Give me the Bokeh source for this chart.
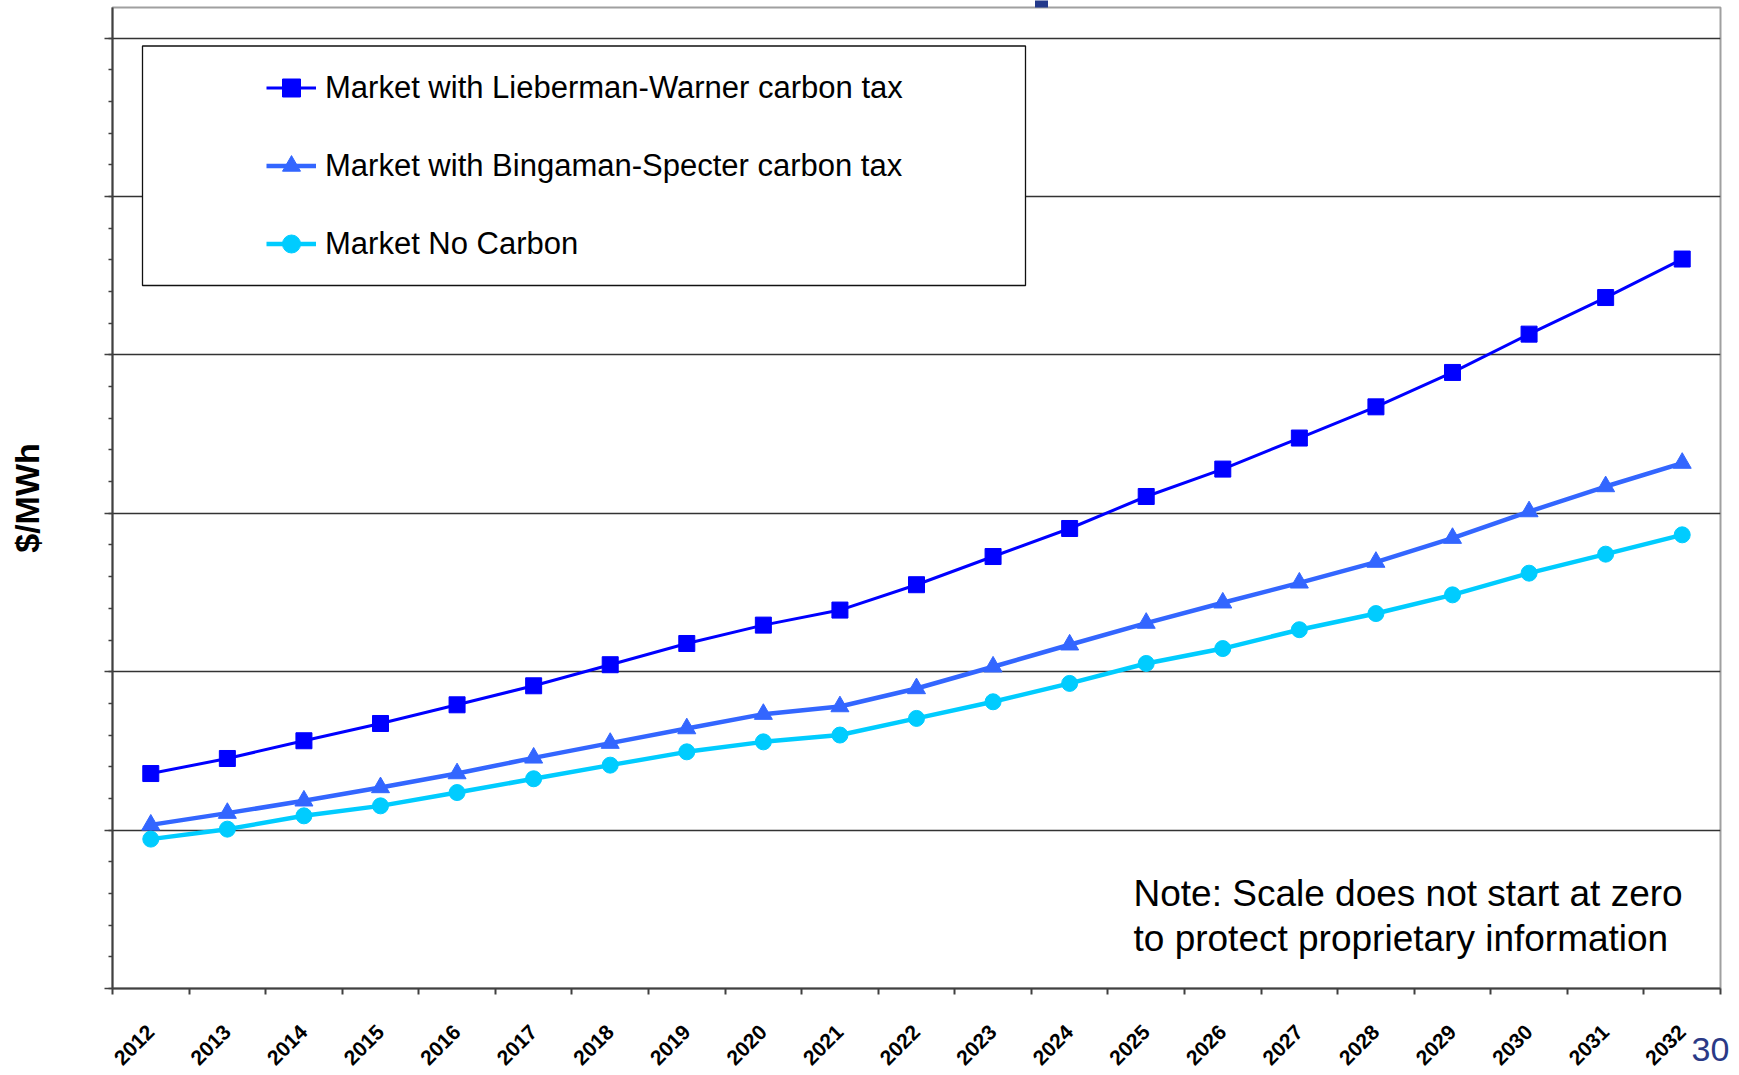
import math
from bokeh.plotting import figure
from bokeh.models import (Range1d, FixedTicker, Legend, LegendItem, Label, BoxAnnotation,
                          LinearAxis)
from bokeh.embed import file_html
from bokeh.resources import INLINE

# ---------------- data (arbitrary units: scale hidden in the original) ----------------
years = [str(y) for y in range(2012, 2033)]
lieberman_warner = [13.57, 14.52, 15.64, 16.73, 17.91, 19.11, 20.44, 21.78, 22.94, 23.89, 25.49,
                    27.27, 29.04, 31.06, 32.79, 34.75, 36.72, 38.89, 41.31, 43.62, 46.05]
bingaman_specter = [10.33, 11.07, 11.85, 12.69, 13.57, 14.56, 15.49, 16.41, 17.32, 17.80, 18.94,
                    20.31, 21.70, 23.07, 24.35, 25.61, 26.92, 28.43, 30.11, 31.69, 33.17]
no_carbon = [9.43, 10.06, 10.90, 11.53, 12.37, 13.24, 14.10, 14.94, 15.57, 16.00, 17.05,
             18.10, 19.26, 20.52, 21.46, 22.65, 23.67, 24.85, 26.22, 27.42, 28.64]
series_names = ["Market with Lieberman-Warner carbon tax",
                "Market with Bingaman-Specter carbon tax",
                "Market No Carbon"]
y_major = [0, 10, 20, 30, 40, 50, 60]
y_top = 61.93
page_number = "30"

FONT = "Liberation Sans"
AX = "#404040"
NAVY = "#2B3A86"

x = [i + 0.5 for i in range(len(years))]

FRAME_W = 1739 - 112 - 19

p = figure(width=1739, height=1075, output_backend="svg", toolbar_location=None,
           x_range=Range1d(0, len(years)), y_range=Range1d(0, y_top),
           min_border_left=112, min_border_right=19, min_border_top=7, min_border_bottom=87)
p.background_fill_color = "white"
p.border_fill_color = "white"
p.outline_line_color = "#A0A0A0"
p.outline_line_width = 2
p.extra_x_ranges = {"page": Range1d(0, FRAME_W)}

p.xgrid.visible = False
p.ygrid.ticker = FixedTicker(ticks=y_major)
p.ygrid.grid_line_color = "#333333"
p.ygrid.grid_line_width = 1.4

# x axis: labels at category centres, tick marks at category boundaries
p.xaxis.ticker = FixedTicker(ticks=x, minor_ticks=list(range(len(years) + 1)))
p.xaxis.major_label_overrides = {xv: yr for xv, yr in zip(x, years)}
p.xaxis.major_label_orientation = math.pi / 4
p.xaxis.major_tick_line_color = None
p.xaxis.major_tick_out = 0
p.xaxis.major_tick_in = 0
p.xaxis.minor_tick_out = 6
p.xaxis.minor_tick_in = 0
p.xaxis.minor_tick_line_color = AX
p.xaxis.minor_tick_line_width = 2
p.xaxis.axis_line_color = AX
p.xaxis.axis_line_width = 2
p.xaxis.major_label_text_font = FONT
p.xaxis.major_label_text_font_style = "bold"
p.xaxis.major_label_text_font_size = "21px"
p.xaxis.major_label_text_color = "black"
p.xaxis.major_label_standoff = 34

# y axis: no values shown
p.yaxis.ticker = FixedTicker(ticks=y_major, minor_ticks=[v * 2 for v in range(0, 31)])
p.yaxis.major_label_overrides = {v: "" for v in y_major}
p.yaxis.major_label_standoff = 0
p.yaxis.major_tick_out = 8
p.yaxis.major_tick_in = 0
p.yaxis.minor_tick_out = 4
p.yaxis.minor_tick_in = 0
p.yaxis.major_tick_line_color = AX
p.yaxis.minor_tick_line_color = AX
p.yaxis.major_tick_line_width = 1.5
p.yaxis.minor_tick_line_width = 1.5
p.yaxis.axis_line_color = AX
p.yaxis.axis_line_width = 2
p.yaxis.axis_label = "$/MWh"
p.yaxis.axis_label_text_font = FONT
p.yaxis.axis_label_text_font_style = "bold"
p.yaxis.axis_label_text_font_size = "34px"
p.yaxis.axis_label_text_color = "black"
p.yaxis.axis_label_standoff = 59

# page number (slide number) below the axis labels, at the right
page_axis = LinearAxis(x_range_name="page", ticker=FixedTicker(ticks=[FRAME_W - 10]),
                       major_label_overrides={FRAME_W - 10: page_number},
                       axis_line_color=None, major_tick_line_color=None,
                       minor_tick_line_color=None, major_tick_out=0, major_tick_in=0,
                       minor_tick_out=0, minor_tick_in=0, major_label_standoff=-37,
                       major_label_text_font=FONT, major_label_text_font_size="34px",
                       major_label_text_color=NAVY)
p.add_layout(page_axis, "below")

# small dark mark peeking above the plot area (slide decoration)
top_axis = LinearAxis(x_range_name="page", ticker=FixedTicker(ticks=[929]),
                      major_label_overrides={929: ""}, major_label_text_font_size="0px",
                      major_label_standoff=0, axis_line_color=None,
                      major_tick_line_color="#23398B", major_tick_line_width=13,
                      major_tick_out=7, major_tick_in=0, minor_tick_line_color=None)
p.add_layout(top_axis, "above")

# series
r1l = p.line(x, lieberman_warner, line_color="#0000FF", line_width=3)
r1m = p.scatter(x, lieberman_warner, marker="square", size=16,
                fill_color="#0000FF", line_color="#0000FF")
r2l = p.line(x, bingaman_specter, line_color="#3366FF", line_width=4.5)
r2m = p.scatter(x, bingaman_specter, marker="triangle", size=18,
                fill_color="#3366FF", line_color="#3366FF")
r3l = p.line(x, no_carbon, line_color="#00CCFF", line_width=4.5)
r3m = p.scatter(x, no_carbon, marker="circle", size=16,
                fill_color="#00CCFF", line_color="#00CCFF")

# legend frame
box = BoxAnnotation(left=30, right=913, top=942.5, bottom=703,
                    left_units="screen", right_units="screen",
                    top_units="screen", bottom_units="screen",
                    fill_color="white", fill_alpha=1.0,
                    line_color="#111111", line_alpha=1.0, line_width=1.3)
p.add_layout(box)

legend = Legend(items=[LegendItem(label=series_names[0], renderers=[r1l, r1m]),
                       LegendItem(label=series_names[1], renderers=[r2l, r2m]),
                       LegendItem(label=series_names[2], renderers=[r3l, r3m])],
                location=(154, 722), padding=0, margin=0, spacing=33,
                glyph_width=50, glyph_height=45, label_height=45, label_standoff=9,
                label_text_font=FONT, label_text_font_size="31px",
                label_text_color="black",
                border_line_color=None, background_fill_alpha=0)
p.add_layout(legend)

note1 = Label(x=1021, y=95, x_units="screen", y_units="screen",
              text="Note: Scale does not start at zero",
              text_font=FONT, text_font_size="37px", text_color="black",
              text_baseline="alphabetic")
note2 = Label(x=1021, y=50, x_units="screen", y_units="screen",
              text="to protect proprietary information",
              text_font=FONT, text_font_size="37px", text_color="black",
              text_baseline="alphabetic")
p.add_layout(note1)
p.add_layout(note2)

open("out.html", "w").write(file_html(p, INLINE))
